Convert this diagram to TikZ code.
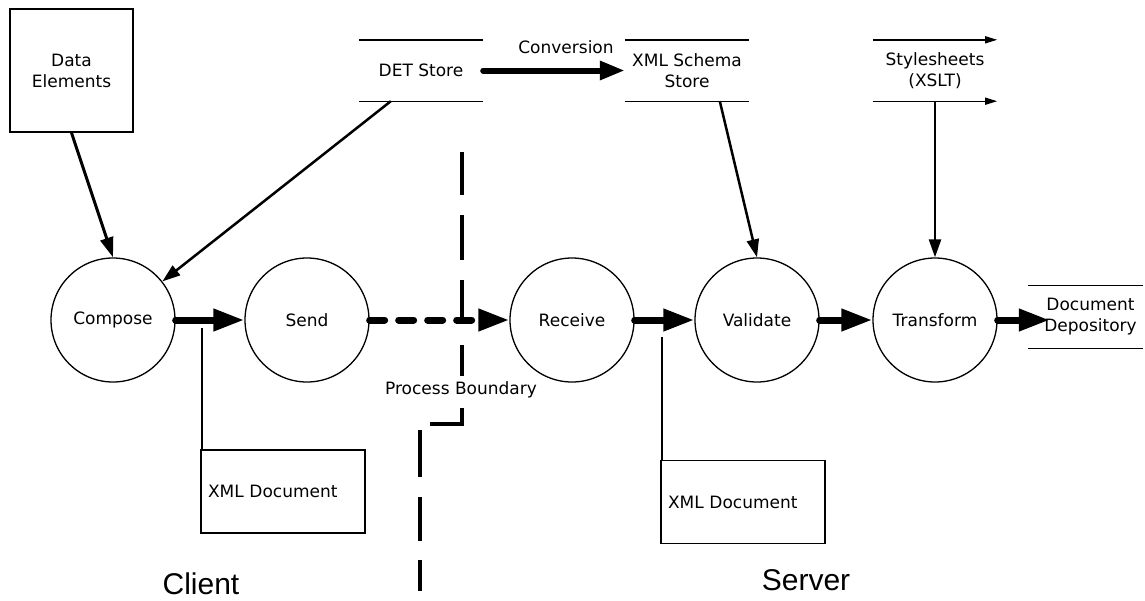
\documentclass[tikz,border=0pt]{standalone}
\usepackage{fontspec}
\setmainfont{DejaVu Sans}
\newfontfamily\bigsans{Liberation Sans}
\usetikzlibrary{arrows.meta,calc}

\begin{document}
\begin{tikzpicture}[x=1pt,y=-1pt,
  every node/.style={font=\fontsize{17}{21}\selectfont, align=center, inner sep=0pt},
  proc/.style={circle, draw, line width=1.3pt, minimum size=124pt},
  store/.style={minimum width=124pt, minimum height=61pt},
  entity/.style={draw, line width=1.5pt, minimum width=123pt, minimum height=123pt},
  docbox/.style={draw, line width=1.4pt, minimum width=164pt, minimum height=83pt,
                 inner xsep=7pt, text width=150pt, align=left},
  flow/.style={line width=7pt, line cap=round, -{Triangle[length=31pt,width=21pt]}},
  feed/.style={line width=3pt, -{Triangle[length=20pt,width=13pt]}},
  tick/.style={line width=1.4pt},
  boundary/.style={line width=4.5pt},
  side/.style={font=\bigsans\fontsize{30}{36}\selectfont, anchor=base}
]
\useasboundingbox (0,0) rectangle (1145,600);

% external entity and data stores
\node[entity] (de) at (71.5,70.5) {Data\\Elements};
\node[store] (det) at (421,70.5) {DET Store};
\node[store] (xs)  at (687,70.5) {XML Schema\\Store};
\node[store] (ss)  at (935,70.5) {Stylesheets\\(XSLT)};
\node[store, minimum width=115pt, minimum height=63pt] (dd) at (1085.5,317) {\hspace*{10pt}Document\\\hspace*{10pt}Depository};

\draw[tick] (det.north west) -- (det.north east) (det.south west) -- (det.south east);
\draw[tick] (xs.north west) -- (xs.north east) (xs.south west) -- (xs.south east);
\draw[tick] (dd.north west) -- (dd.north east) (dd.south west) -- (dd.south east);
\draw[tick, -{Triangle[length=12pt,width=7pt]}] (ss.north west) -- (ss.north east);
\draw[tick, -{Triangle[length=12pt,width=7pt]}] (ss.south west) -- (ss.south east);

% processes
\node[proc] (cmp) at (113,320) {Compose};
\node[proc] (snd) at (307,320) {Send};
\node[proc] (rcv) at (572,320) {Receive};
\node[proc] (val) at (757,320) {Validate};
\node[proc] (trf) at (935,320) {Transform};

% documents passed between processes
\node[docbox] (xd1) at (283,491.5) {XML Document};
\node[docbox] (xd2) at (743,502) {XML Document};

% main flow
\draw[flow] (cmp.east) -- (snd.west);
\draw[flow, dash pattern=on 15pt off 14pt] (snd.east) -- (rcv.west);
\draw[flow] (rcv.east) -- (val.west);
\draw[flow] (val.east) -- (trf.west);
\draw[flow, shorten >=-22pt] (trf.east) -- (trf.east -| dd.west);

% conversion between stores
\draw[line width=6pt, line cap=round, -{Triangle[length=25pt,width=18pt]}] (det.east) -- (xs.west);
\node (conv) at (566,47) {Conversion};

% inputs to processes
\draw[feed] (de.south) -- (cmp.north);
\draw[feed, line width=2.5pt, -{Triangle[length=18pt,width=12pt]}] ([xshift=32pt]det.south west) -- (cmp.38);
\draw[feed, line width=2.5pt, -{Triangle[length=18pt,width=12pt]}] ([xshift=95pt]xs.south west) -- (val.north);
\draw[feed, line width=2.5pt, -{Triangle[length=18pt,width=12pt]}] (ss.south) -- (trf.north);

% links from the flows to the documents
\coordinate (j1) at (202,328);
\coordinate (j2) at (662,337);
\draw[tick] (j1) -- (j1 |- xd1.north);
\draw[tick] (j2) -- (j2 |- xd2.north);

% process boundary
\draw[boundary] (462,152) -- (462,195) (462,215) -- (462,260) (462,280) -- (462,320)
                (462,345) -- (462,376);
\draw[boundary] (462,408) -- (462,424) -- (430,424);
\draw[boundary] (420,430) -- (420,477) (420,497) -- (420,541) (420,560) -- (420,591);
\node[fill=white, inner sep=1pt] (pb) at (461,390) {Process Boundary};

% sides
\node[side] (client) at (201,594) {Client};
\node[side] (server) at (806,590) {Server};
\end{tikzpicture}
\end{document}
